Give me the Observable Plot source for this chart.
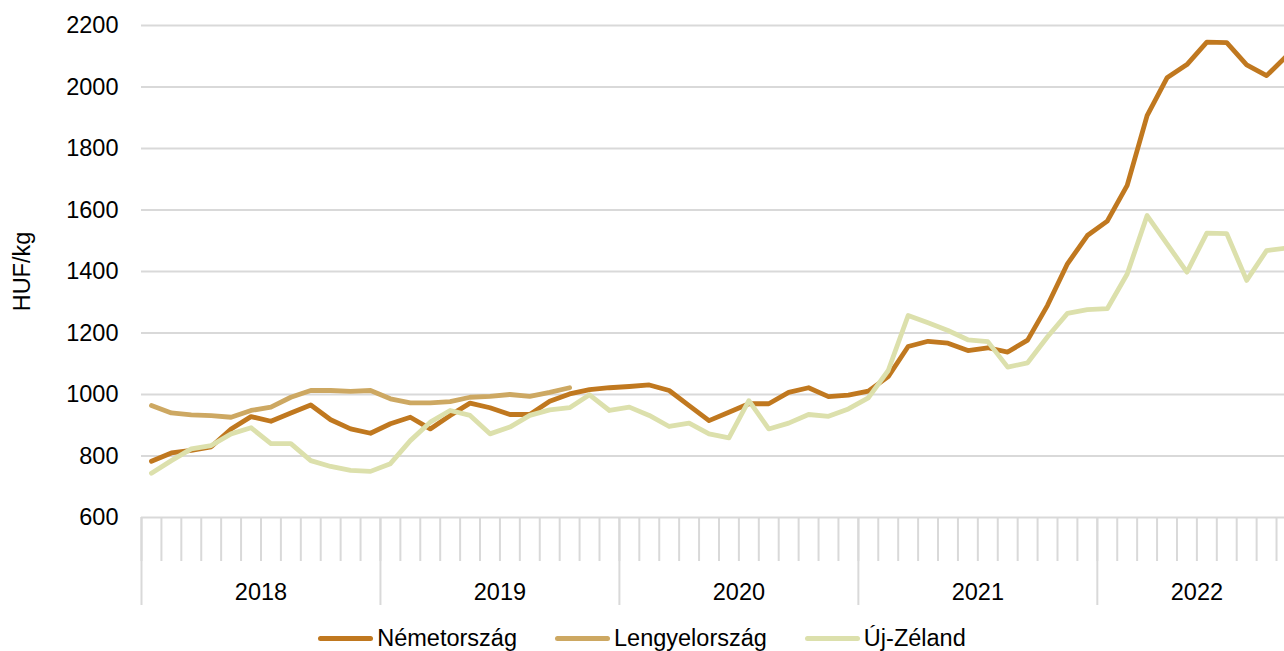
<!DOCTYPE html>
<html><head><meta charset="utf-8">
<script src="https://cdn.jsdelivr.net/npm/d3@7"></script>
<script src="https://cdn.jsdelivr.net/npm/@observablehq/plot@0.6"></script>
<style>
body{margin:0;background:#fff;font-family:"Liberation Sans",Arial,sans-serif;}
#legend{display:flex;justify-content:center;align-items:center;gap:38px;height:28px;font-size:23.5px;color:#000;width:1284px;}
.item{display:flex;align-items:center;white-space:nowrap;}
.sw{width:55px;height:5px;border-radius:3px;margin-right:4px;}
</style></head><body>
<div id="chart"></div>
<div id="legend"></div>
<script>
// Monthly categories: Jan 2018 – Oct 2022
const months = d3.utcMonth.range(new Date(Date.UTC(2018,0,1)), new Date(Date.UTC(2022,10,1)));
const years = ["2018","2019","2020","2021","2022"];
const yTicks = [600,800,1000,1200,1400,1600,1800,2000,2200];

const seriesNames = ["Németország","Lengyelország","Új-Zéland"];
const seriesColors = ["#C0781F","#CDA862","#DCE0AC"];

const nemetorszag = [783,810,818,830,888,928,913,940,966,918,888,874,
  905,926,888,932,972,957,935,935,978,1002,1016,1022,
  1026,1031,1013,964,915,942,970,970,1007,1022,993,998,
  1011,1058,1156,1173,1167,1143,1152,1138,1177,1290,1425,1517,
  1564,1680,1907,2030,2073,2146,2144,2072,2037,2100];
const lengyelorszag = [964,940,934,931,926,948,959,991,1013,1013,1010,1013,
  986,973,973,977,991,994,1000,994,1007,1022];
const ujZeland = [744,785,823,834,872,892,840,840,785,766,753,750,
  775,850,910,948,932,872,894,932,950,957,999,948,
  959,932,896,907,872,859,980,888,907,935,929,953,
  989,1078,1257,1233,1208,1178,1172,1089,1103,1188,1264,1276,
  1279,1392,1582,1490,1398,1525,1523,1371,1468,1476];

const seriesValues = [nemetorszag, lengyelorszag, ujZeland];
const data = seriesNames.flatMap((name, s) =>
  seriesValues[s].map((v, i) => ({series: name, i, month: months[i], value: v})));

const monthBounds = months.map((m, i) => i - 0.5);
const yearIdx = years.map(y => months.map((m,i)=>[m,i]).filter(([m]) => String(m.getUTCFullYear()) === y).map(([,i]) => i));
const yearBounds = yearIdx.map(ix => ix[0] - 0.5);
const yearCenters = yearIdx.map(ix => (ix[0] + ix[ix.length-1]) / 2);
const yearLabel = new Map(yearCenters.map((c, k) => [c, years[k]]));

const chart = Plot.plot({
  width: 1284,
  height: 624,
  marginLeft: 141,
  marginRight: 0,
  marginTop: 25,
  marginBottom: 107,
  style: {fontFamily: '"Liberation Sans", Arial, sans-serif', fontSize: "23.5px", color: "#000", background: "#fff", overflow: "visible"},
  x: {type: "linear", domain: [-0.5, 56.9], axis: null},
  y: {domain: [600, 2200], axis: null},
  color: {domain: seriesNames, range: seriesColors},
  marks: [
    Plot.gridY(yTicks, {stroke: "#d9d9d9", strokeOpacity: 1, strokeWidth: 2}),
    Plot.axisY(yTicks, {tickSize: 0, tickPadding: 23, tickFormat: d => String(d), label: "HUF/kg", labelAnchor: "center", labelArrow: "none", labelOffset: 128, fontSize: 23.5}),
    Plot.axisX(monthBounds, {tickSize: 44, tickFormat: () => "", label: null, stroke: "#d9d9d9", strokeWidth: 2}),
    Plot.axisX(yearBounds, {tickSize: 88, tickFormat: () => "", label: null, stroke: "#d9d9d9", strokeWidth: 2}),
    Plot.axisX(yearCenters, {tickSize: 0, tickPadding: 66, tickFormat: d => yearLabel.get(d), label: null, fontSize: 23.5}),
    Plot.line(data, {x: "i", y: "value", z: "series", stroke: "series", strokeWidth: 4.8,
      strokeLinejoin: "round", strokeLinecap: "round", clip: true})
  ]
});
document.getElementById("chart").append(chart);

const legend = d3.select("#legend");
seriesNames.forEach((name, k) => {
  const it = legend.append("div").attr("class", "item");
  it.append("div").attr("class", "sw").style("background", seriesColors[k]);
  it.append("span").text(name);
});
</script>
</body></html>
